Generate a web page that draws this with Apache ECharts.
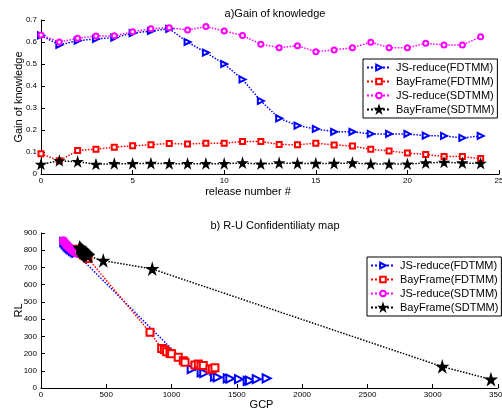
<!DOCTYPE html>
<html>
<head>
<meta charset="utf-8">
<script src="https://cdn.jsdelivr.net/npm/echarts@6/dist/echarts.min.js"></script>
<style>
html,body{margin:0;padding:0;background:#fff;}
#main{width:502px;height:409px;}
</style>
</head>
<body>
<div id="main"></div>
<script>
// a) gain of knowledge, release number 0..24
var releases = [];
for (var i = 0; i < 25; i++) releases.push(i);
var jsFD = [0.63,0.587,0.606,0.614,0.62,0.64,0.65,0.66,0.60,0.552,0.50,0.43,0.332,0.253,0.22,0.205,0.192,0.192,0.182,0.182,0.182,0.174,0.173,0.164,0.173];
var bayFD = [0.092,0.06,0.107,0.113,0.122,0.128,0.133,0.139,0.136,0.14,0.14,0.148,0.148,0.134,0.133,0.14,0.132,0.127,0.112,0.105,0.095,0.089,0.079,0.079,0.07];
var jsSD = [0.632,0.60,0.617,0.627,0.628,0.647,0.66,0.665,0.655,0.67,0.65,0.63,0.59,0.574,0.583,0.556,0.564,0.574,0.599,0.574,0.574,0.594,0.586,0.586,0.624];
var baySD = [0.044,0.06,0.056,0.044,0.047,0.047,0.048,0.047,0.047,0.047,0.047,0.05,0.045,0.05,0.048,0.048,0.048,0.05,0.045,0.045,0.045,0.05,0.053,0.05,0.048];

// b) R-U confidentiality map, [GCP, RL]
var ruJsFD = [[178,848],[186,840],[194,832],[203,824],[212,817],[222,810],[233,803],[245,796],[258,790],[270,784],[1154,110],[1230,91],[1250,86],[1332,66],[1353,62],[1430,56],[1450,55],[1516,51],[1583,42],[1600,43],[1652,51],[1728,56]];
var ruBayFD = [[255,805],[290,788],[325,772],[360,752],[835,323],[924,230],[945,222],[962,211],[988,201],[1000,199],[1051,178],[1090,158],[1103,149],[1179,134],[1205,139],[1225,131],[1243,130],[1294,110],[1312,111],[1332,118]];
var ruJsSD = [[172,855],[176,850],[180,846],[184,842],[188,838],[192,834],[196,830],[200,827],[205,823],[210,820],[215,816],[220,812],[225,809],[230,806],[235,803],[240,800],[245,797],[250,794],[256,791],[262,788],[268,786],[275,784],[282,782]];
var ruBaySD = [[295,815],[300,810],[305,806],[310,802],[314,799],[318,796],[322,793],[326,790],[330,787],[334,784],[338,781],[342,778],[346,776],[350,773],[354,770],[358,768],[362,766],[477,739],[852,691],[3073,124],[3446,50]];

var names = ['JS-reduce(FDTMM)','BayFrame(FDTMM)','JS-reduce(SDTMM)','BayFrame(SDTMM)'];
var starPath = 'path://M50,0 L61,35 L98,35 L68,57 L79,91 L50,70 L21,91 L32,57 L2,35 L39,35 Z';

var font = 'Liberation Sans, Arial, sans-serif';
var styles = [
    {color:'#0000ff', symbol:'emptyTriangle', rotate:-90, size:6},
    {color:'#ff0000', symbol:'emptyRect', rotate:0, size:5},
    {color:'#ff00ff', symbol:'emptyCircle', rotate:0, size:5},
    {color:'#000000', symbol:starPath, rotate:0, size:8}
];

function mkSeries(idx, data, xi, big){
    var s = styles[idx];
    return {
        name: names[idx],
        type: 'line',
        xAxisIndex: xi, yAxisIndex: xi,
        data: data,
        symbol: s.symbol,
        symbolRotate: s.rotate,
        symbolSize: big ? s.size + 2 : s.size,
        showAllSymbol: true,
        animation: false,
        lineStyle: {color: s.color, width: 1.5, type: 'dotted'},
        itemStyle: {color: s.color, borderColor: s.color, borderWidth: 1.5}
    };
}

function pairs(ys){
    return ys.map(function(v, i){ return [releases[i], v]; });
}

function axisBase(margin){
    return {
        nameMoveOverlap: false,
        axisLine: {onZero: false, lineStyle: {color: '#000', width: 1}},
        axisTick: {inside: true, length: 4, lineStyle: {color: '#000'}},
        axisLabel: {color: '#000', fontSize: 8, fontFamily: font, margin: margin,
                    formatter: function(v){ return String(v); }},
        splitLine: {show: false}
    };
}

function legendAt(top, left){
    return {
        top: top, left: left,
        orient: 'vertical',
        data: names,
        backgroundColor: '#fff',
        borderColor: '#000',
        borderWidth: 1,
        padding: [3, 3],
        itemGap: 3,
        itemWidth: 24,
        itemHeight: 7,
        textStyle: {fontSize: 11, fontFamily: font, color: '#000'}
    };
}

var myChart = echarts.init(document.getElementById('main'));
var option = {
    backgroundColor: '#fff',
    title: [
        {text: 'a)Gain of knowledge', left: 270, top: 3, textAlign: 'center',
         textStyle: {fontSize: 11, fontWeight: 'normal', fontFamily: font, color: '#000'}},
        {text: 'b) R-U Confidentiliaty map', left: 270, top: 215, textAlign: 'center',
         textStyle: {fontSize: 11, fontWeight: 'normal', fontFamily: font, color: '#000'}}
    ],
    legend: [legendAt(59, 363), legendAt(257, 367)],
    grid: [
        {left: 41, top: 20, width: 458, height: 154, outerBoundsMode: 'none', containLabel: false},
        {left: 41, top: 233, width: 457, height: 155, outerBoundsMode: 'none', containLabel: false}
    ],
    xAxis: [
        Object.assign(axisBase(3), {type: 'value', gridIndex: 0, min: 0, max: 25, interval: 5,
            name: 'release number #', nameLocation: 'middle', nameGap: 12,
            nameTextStyle: {fontSize: 11, fontFamily: font, color: '#000', padding: [0, 44, 0, 0]}}),
        Object.assign(axisBase(3), {type: 'value', gridIndex: 1, min: 0, max: 3500, interval: 500,
            name: 'GCP', nameLocation: 'middle', nameGap: 11,
            nameTextStyle: {fontSize: 11, fontFamily: font, color: '#000', padding: [0, 16, 0, 0]}})
    ],
    yAxis: [
        Object.assign(axisBase(4), {type: 'value', gridIndex: 0, min: 0, max: 0.7, interval: 0.1,
            name: 'Gain of knowledge', nameLocation: 'middle', nameGap: 17,
            nameTextStyle: {fontSize: 11, fontFamily: font, color: '#000'}}),
        Object.assign(axisBase(4), {type: 'value', gridIndex: 1, min: 0, max: 900, interval: 100,
            name: 'RL', nameLocation: 'middle', nameGap: 17,
            nameTextStyle: {fontSize: 11, fontFamily: font, color: '#000'}})
    ],
    series: [
        mkSeries(0, pairs(jsFD), 0, false),
        mkSeries(1, pairs(bayFD), 0, false),
        mkSeries(2, pairs(jsSD), 0, false),
        mkSeries(3, pairs(baySD), 0, false),
        mkSeries(0, ruJsFD, 1, true),
        mkSeries(1, ruBayFD, 1, true),
        mkSeries(2, ruJsSD, 1, true),
        mkSeries(3, ruBaySD, 1, true)
    ]
};
myChart.setOption(option);
</script>
</body>
</html>
